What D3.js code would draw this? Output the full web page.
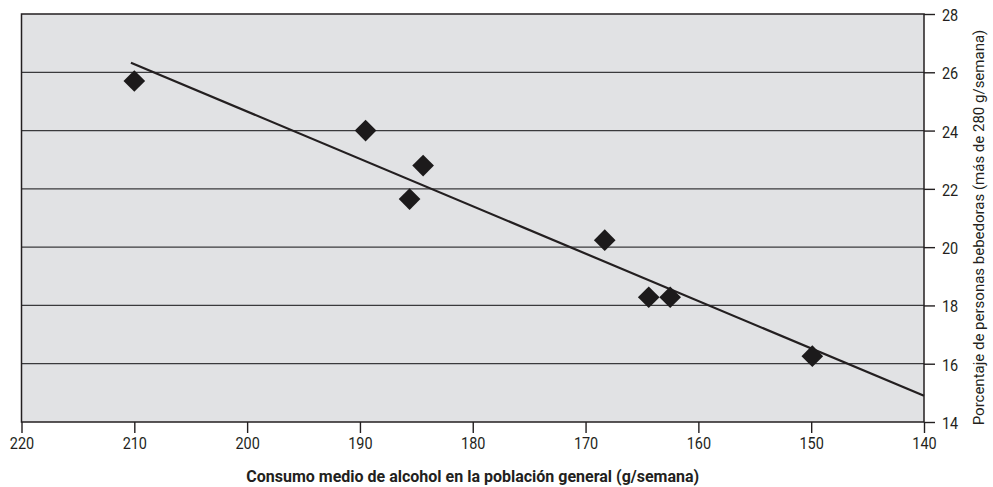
<!DOCTYPE html>
<html>
<head>
<meta charset="utf-8">
<script src="https://cdn.jsdelivr.net/npm/d3@7"></script>
<style>
  html, body { margin: 0; padding: 0; background: #ffffff; }
  svg { display: block; }
  text { font-family: Roboto, "Liberation Sans", sans-serif; fill: #231f20; }
</style>
</head>
<body>
<svg id="chart" width="993" height="487"></svg>
<script>
// Average weekly alcohol consumption in the general population (g/week)
const consumo = [210, 189.5, 184.4, 185.6, 168.3, 164.4, 162.5, 149.9];
// Share of heavy drinkers, more than 280 g/week (%)
const bebedores = [25.7, 24.0, 22.8, 21.65, 20.24, 18.28, 18.28, 16.26];
// Fitted trend line end points [consumo, porcentaje]
const tendenciaX = [210.3, 140];
const tendenciaY = [26.33, 14.9];
// Axis ticks
const xTicks = [220, 210, 200, 190, 180, 170, 160, 150, 140];
const yTicks = [14, 16, 18, 20, 22, 24, 26, 28];

const svg = d3.select("#chart");
const W = 993, H = 487;
const margin = { left: 21.5, right: W - 924, top: 14, bottom: H - 422 };
const narrow = 0.85; // horizontal squeeze for a condensed look of tick labels

const x = d3.scaleLinear().domain([220, 140]).range([margin.left, W - margin.right]);
const y = d3.scaleLinear().domain([14, 28]).range([H - margin.bottom, margin.top]);

// Plot background
svg.append("rect")
  .attr("x", x(220)).attr("y", y(28))
  .attr("width", x(140) - x(220)).attr("height", y(14) - y(28))
  .attr("fill", "#e1e2e4");

// Horizontal grid lines
svg.append("g").selectAll("line")
  .data(yTicks.filter(d => d > 14 && d < 28))
  .join("line")
  .attr("x1", x(220)).attr("x2", x(140))
  .attr("y1", d => y(d)).attr("y2", d => y(d))
  .attr("stroke", "#3a3a3c").attr("stroke-width", 1.3);

// Frame
svg.append("rect")
  .attr("x", x(220)).attr("y", y(28))
  .attr("width", x(140) - x(220)).attr("height", y(14) - y(28))
  .attr("fill", "none").attr("stroke", "#231f20").attr("stroke-width", 1.5);

// X axis (bottom)
const xAxis = svg.append("g")
  .attr("transform", `translate(0,${y(14)})`)
  .call(d3.axisBottom(x).tickValues(xTicks).tickSize(11).tickFormat(d3.format("d")));
xAxis.select(".domain").remove();
xAxis.selectAll(".tick line").attr("stroke", "#231f20").attr("stroke-width", 1.4);
xAxis.selectAll(".tick text")
  .attr("font-size", 17).attr("fill", "#231f20")
  .attr("y", 27.5).attr("dy", 0)
  .attr("transform", `scale(${narrow},1)`);

// Y axis (right)
const yAxis = svg.append("g")
  .attr("transform", `translate(${x(140)},0)`)
  .call(d3.axisRight(y).tickValues(yTicks).tickSize(11).tickFormat(d3.format("d")));
yAxis.select(".domain").remove();
yAxis.selectAll(".tick line").attr("stroke", "#231f20").attr("stroke-width", 1.4);
yAxis.selectAll(".tick text")
  .attr("font-size", 17).attr("fill", "#231f20")
  .attr("x", 18 / narrow).attr("dy", "0.38em")
  .attr("transform", `scale(${narrow},1)`);

// Trend line
svg.append("line")
  .attr("x1", x(tendenciaX[0])).attr("y1", y(tendenciaY[0]))
  .attr("x2", x(tendenciaX[1])).attr("y2", y(tendenciaY[1]))
  .attr("stroke", "#231f20").attr("stroke-width", 2.2);

// Diamond markers
const diamond = d3.symbol().type(d3.symbolSquare).size(235);
svg.append("g").selectAll("path")
  .data(consumo.map((c, i) => [c, bebedores[i]]))
  .join("path")
  .attr("d", diamond)
  .attr("transform", d => `translate(${x(d[0])},${y(d[1])}) rotate(45)`)
  .attr("fill", "#1c1a1b");

// Axis titles
svg.append("text")
  .attr("x", (x(220) + x(140)) / 2).attr("y", 482)
  .attr("text-anchor", "middle")
  .attr("font-size", 16).attr("font-weight", "bold")
  .text("Consumo medio de alcohol en la población general (g/semana)");

svg.append("text")
  .attr("transform", `translate(983.5,227.5) rotate(-90)`)
  .attr("text-anchor", "middle")
  .attr("font-size", 15)
  .text("Porcentaje de personas bebedoras (más de 280 g/semana)");
</script>
</body>
</html>
